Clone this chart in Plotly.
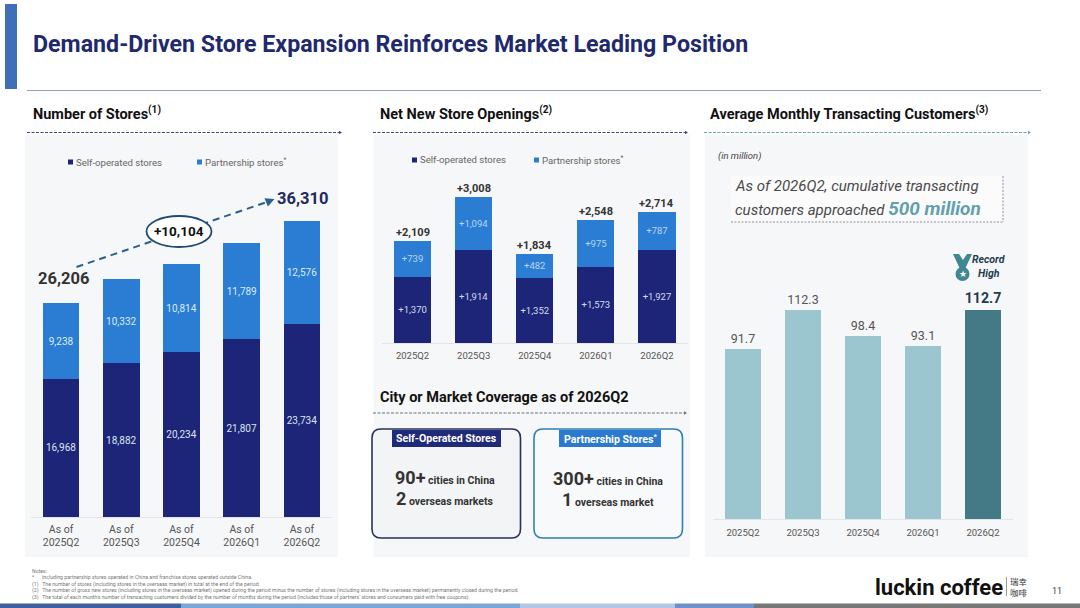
"""
Luckin Coffee results slide: store count, net openings and customers.
"""

import plotly.graph_objects as go

W, H = 1080, 608
FONT = "Roboto"

store_periods = ["As of<br>2025Q2", "As of<br>2025Q3", "As of<br>2025Q4", "As of<br>2026Q1", "As of<br>2026Q2"]
stores_self = [16968, 18882, 20234, 21807, 23734]
stores_partner = [9238, 10332, 10814, 11789, 12576]

quarters = ["2025Q2", "2025Q3", "2025Q4", "2026Q1", "2026Q2"]
openings_self = [1370, 1914, 1352, 1573, 1927]
openings_partner = [739, 1094, 482, 975, 787]
openings_total = [2109, 3008, 1834, 2548, 2714]

customers = [91.7, 112.3, 98.4, 93.1, 112.7]

notes = [
    "Notes:",
    "*      Including partnership stores operated in China and franchise stores operated outside China.",
    "(1)   The number of stores (including stores in the overseas market) in total at the end of the period.",
    "(2)   The number of gross new stores (including stores in the overseas market) opened during the period minus the number of stores (including stores in the overseas market) permanently closed during the period.",
    "(3)   The total of each month's number of transacting customers divided by the number of months during the period (includes those of partners' stores and consumers paid with free coupons).",
]

NAVY = "#1c2577"
BLUE = "#2a7dd2"
TEAL_LIGHT = "#9cc6cf"
TEAL_DARK = "#437a85"
PANEL = "#f6f7f8"
GREY = "#555555"


def px(x):
    return x / W


def py(y):
    return 1 - y / H


fig = go.Figure()

# number of stores
fig.add_trace(go.Bar(
    x=store_periods, y=stores_self, xaxis="x", yaxis="y",
    marker=dict(color=NAVY, line_width=0),
    texttemplate="%{y:,}", textposition="inside", insidetextanchor="middle", textangle=0,
    textfont=dict(color="#dfe4f2", size=10, family=FONT),
))
fig.add_trace(go.Bar(
    x=store_periods, y=stores_partner, xaxis="x", yaxis="y",
    marker=dict(color=BLUE, line_width=0),
    texttemplate="%{y:,}", textposition="inside", insidetextanchor="middle", textangle=0,
    textfont=dict(color="#dcebfa", size=10, family=FONT),
))

# net new openings
fig.add_trace(go.Bar(
    x=quarters, y=openings_self, xaxis="x2", yaxis="y2",
    marker=dict(color=NAVY, line_width=0),
    texttemplate="+%{y:,}", textposition="inside", insidetextanchor="middle", textangle=0,
    textfont=dict(color="#d5dbee", size=9.5, family=FONT),
))
fig.add_trace(go.Bar(
    x=quarters, y=openings_partner, xaxis="x2", yaxis="y2",
    marker=dict(color=BLUE, line_width=0),
    texttemplate="+%{y:,}", textposition="inside", insidetextanchor="middle", textangle=0,
    textfont=dict(color="#b9d6f3", size=9.5, family=FONT),
))

# customers
fig.add_trace(go.Bar(
    x=quarters, y=customers, xaxis="x3", yaxis="y3",
    marker=dict(color=[TEAL_LIGHT] * 4 + [TEAL_DARK], line_width=0),
    texttemplate="%{y:.1f}", textposition="outside", cliponaxis=False,
    textfont=dict(
        color=[GREY] * 4 + ["#1f3d4d"],
        size=[12.5] * 4 + [16.5],
        weight=["normal"] * 4 + ["bold"],
        family=FONT,
    ),
))


def axis_x(left, right, anchor, size, tick_len):
    return dict(
        domain=[px(left), px(right)], anchor=anchor, type="category",
        showline=True, linecolor="#e2e4e7", linewidth=1, showgrid=False, zeroline=False,
        ticks="outside", ticklen=tick_len, tickcolor="rgba(0,0,0,0)",
        tickfont=dict(size=size, color=GREY, family=FONT),
    )


def axis_y(bottom, top, upper, anchor):
    return dict(
        domain=[py(bottom), py(top)], anchor=anchor, range=[0, upper],
        visible=False, showgrid=False, zeroline=False,
    )


shapes = []
annotations = []


def rect(x0, y0, x1, y1, color, layer="below"):
    shapes.append(dict(
        type="rect", xref="paper", yref="paper", layer=layer,
        x0=px(x0), x1=px(x1), y0=py(y0), y1=py(y1),
        fillcolor=color, line_width=0,
    ))


def label(x, y, text, size, color=GREY, anchor="left", bold=False, italic=False, family=FONT):
    annotations.append(dict(
        xref="paper", yref="paper", x=px(x), y=py(y), text=text, showarrow=False,
        xanchor=anchor, yanchor="middle", align=anchor, borderpad=0, borderwidth=0,
        font=dict(
            size=size, color=color, family=family,
            weight="bold" if bold else "normal",
            style="italic" if italic else "normal",
        ),
    ))


def round_box(x0, y0, x1, y1, r, color, fill):
    a0, a1, b0, b1 = px(x0), px(x1), py(y0), py(y1)
    rx, ry = px(r), r / H
    path = (
        f"M {a0 + rx} {b0} L {a1 - rx} {b0} Q {a1} {b0} {a1} {b0 - ry} "
        f"L {a1} {b1 + ry} Q {a1} {b1} {a1 - rx} {b1} L {a0 + rx} {b1} "
        f"Q {a0} {b1} {a0} {b1 + ry} L {a0} {b0 - ry} Q {a0} {b0} {a0 + rx} {b0} Z"
    )
    shapes.append(dict(
        type="path", xref="paper", yref="paper", layer="below", path=path,
        fillcolor=fill, line=dict(color=color, width=1.6),
    ))


def section(x0, x1, y, color):
    shapes.append(dict(
        type="line", xref="paper", yref="paper", layer="above",
        x0=px(x0), x1=px(x1 - 2), y0=py(y), y1=py(y),
        line=dict(color=color, width=1, dash="3px,1.5px"),
    ))
    shapes.append(dict(
        type="path", xref="paper", yref="paper", layer="above",
        path=f"M {px(x1 - 3)} {py(y - 1.8)} L {px(x1)} {py(y)} L {px(x1 - 3)} {py(y + 1.8)} Z",
        fillcolor=color, line_width=0,
    ))


# page furniture
rect(5, 4, 17, 89, "#3f6fb8")
shapes.append(dict(
    type="line", xref="paper", yref="paper", layer="below",
    x0=px(27), x1=px(1041), y0=py(90.5), y1=py(90.5), line=dict(color="#93a0ad", width=1),
))
label(33, 44.5, "Demand-Driven Store Expansion Reinforces Market Leading Position", 23.2, "#1f2a6e", bold=True)

for x0, x1 in [(25, 338), (373.5, 690), (705, 1028)]:
    rect(x0, 135, x1, 557, PANEL)

label(33, 113.5, "Number of Stores<sup>(1)</sup>", 14.5, "#111111", bold=True)
label(380, 113.5, "Net New Store Openings<sup>(2)</sup>", 14.5, "#111111", bold=True)
label(710, 113.5, "Average Monthly Transacting Customers<sup>(3)</sup>", 14.5, "#111111", bold=True)
label(380, 397, "City or Market Coverage as of 2026Q2", 14.5, "#111111", bold=True)
section(27, 342, 132.5, "#3a4a7c")
section(373, 688, 132.5, "#3a4a7c")
section(704, 1031, 132.5, "#6fa3ad")
section(373, 687, 413, "#6b7280")

# legends
for x, y, color, text in [
    (68, 162, NAVY, "Self-operated stores"),
    (197, 162, BLUE, "Partnership stores<sup>*</sup>"),
    (412, 160, NAVY, "Self-operated stores"),
    (534, 160, BLUE, "Partnership stores<sup>*</sup>"),
]:
    rect(x, y - 2.5, x + 5, y + 2.5, color)
    label(x + 8, y, text, 9.6, "#666666")

# growth arrow over the store chart
shapes.append(dict(
    type="line", xref="paper", yref="paper", layer="above",
    x0=px(76.5), y0=py(267), x1=px(270), y1=py(201),
    line=dict(color="#2b5f8f", width=2, dash="7px,5px"),
))
annotations.append(dict(
    xref="paper", yref="paper", axref="pixel", ayref="pixel",
    x=px(274.5), y=py(199), ax=-8.5, ay=3.5, text="",
    showarrow=True, arrowhead=2, arrowsize=1, arrowwidth=1.8, arrowcolor="#2b5f8f",
))
shapes.append(dict(
    type="circle", xref="paper", yref="paper", layer="above",
    x0=px(146.5), x1=px(211.5), y0=py(216), y1=py(247),
    fillcolor="#ffffff", line=dict(color="#1f4a70", width=1.8),
))
label(179, 231.5, "+10,104", 13.5, "#111111", "center", bold=True)
label(63.5, 278, "26,206", 16.5, "#333333", "center", bold=True)
label(302, 198.5, "36,310", 16.5, "#1f2a5e", "center", bold=True)

# totals above the openings bars
for quarter, total in zip(quarters, openings_total):
    annotations.append(dict(
        xref="x2", yref="y2", x=quarter, y=total, text=f"+{total:,}", showarrow=False,
        yanchor="bottom", yshift=1, borderpad=0,
        font=dict(size=11, color="#333333", family=FONT, weight="bold"),
    ))

# coverage cards
round_box(372, 429, 520.5, 538, 9, "#27315f", "#f3f4f6")
round_box(534, 429, 682.5, 538, 9, "#2f7fb0", "#f8f9fa")
rect(392, 430, 501, 447, "#1f2a78", layer="above")
rect(559, 430, 661, 447, "#2b7ad0", layer="above")
label(446.5, 438.5, "Self-Operated Stores", 10.6, "#ffffff", "center", bold=True)
label(610, 438.5, "Partnership Stores<sup>*</sup>", 10.6, "#ffffff", "center", bold=True)
label(445, 477, "<span style='font-size:18px'>90+</span> cities in China", 10.5, "#333333", "center", bold=True)
label(445, 498, "<span style='font-size:18px'>2</span> overseas markets", 10.5, "#333333", "center", bold=True)
label(608, 478, "<span style='font-size:18px'>300+</span> cities in China", 10.5, "#333333", "center", bold=True)
label(608, 499, "<span style='font-size:18px'>1</span> overseas market", 10.5, "#333333", "center", bold=True)

# customers callout
label(718, 156, "(in million)", 9.5, "#444444", italic=True)
rect(731, 176, 1003, 222, "#fbfbfc")
for x0, y0, x1, y1 in [(731, 222, 1003, 222), (1003, 176, 1003, 222)]:
    shapes.append(dict(
        type="line", xref="paper", yref="paper", layer="below",
        x0=px(x0), x1=px(x1), y0=py(y0), y1=py(y1),
        line=dict(color="#8a8f96", width=1, dash="2px,1.5px"),
    ))
label(735, 186, "As of 2026Q2, cumulative transacting", 15, "#4a4a4a", italic=True)
label(735, 208.5, "customers approached <b style='font-size:19px;color:#62a0ab'>500 million</b>", 15, "#4a4a4a", italic=True)

# record high medal
shapes.append(dict(
    type="path", xref="paper", yref="paper", layer="above",
    path=(
        f"M {px(953)} {py(254)} L {px(959)} {py(254)} L {px(963)} {py(260)} L {px(967)} {py(254)} "
        f"L {px(972)} {py(254)} L {px(965)} {py(269)} L {px(960)} {py(269)} Z"
    ),
    fillcolor="#3f8791", line_width=0,
))
shapes.append(dict(
    type="circle", xref="paper", yref="paper", layer="above",
    x0=px(955.5), x1=px(969.5), y0=py(267), y1=py(281),
    fillcolor="#3f8791", line_width=0,
))
label(962.5, 274, "★", 8.5, "#ffffff", "center")
label(989, 260, "Record", 10.5, "#1f3d4d", "center", bold=True, italic=True)
label(989, 274, "High", 10.5, "#1f3d4d", "center", bold=True, italic=True)

# footnotes
for i, line in enumerate(notes):
    label(32, 570.5 + i * 6.8, line, 5.2, "#777777")

# logo and page number
label(875, 587, "luckin coffee", 22, "#111111", bold=True)
shapes.append(dict(
    type="line", xref="paper", yref="paper", layer="below",
    x0=px(1006.5), x1=px(1006.5), y0=py(577), y1=py(596), line=dict(color="#999999", width=1),
))
label(1019, 581, "瑞幸", 8.5, "#333333", "center", family="Noto Sans CJK SC")
label(1019, 592, "咖啡", 8.5, "#333333", "center", family="Noto Sans CJK SC")
label(1056.5, 591, "11", 9, "#444444", "center")

# footer strip
for x0, x1, color in [
    (0, 181, "#3f5f9f"), (181, 520, "#7aa6d8"), (520, 675, "#b3c8e6"),
    (675, 754, "#6f90c8"), (754, 1080, "#777777"),
]:
    rect(x0, 603.5, x1, 608, color)

fig.update_layout(
    width=W, height=H,
    margin=dict(l=0, r=0, t=0, b=0),
    paper_bgcolor="#ffffff", plot_bgcolor="rgba(0,0,0,0)",
    barmode="stack", bargap=0.39, showlegend=False,
    font=dict(family=FONT),
    xaxis=axis_x(31, 332, "y", 10.5, 2),
    yaxis=axis_y(517, 190, 40123, "x"),
    xaxis2=axis_x(382, 687.5, "y2", 9.5, 4),
    yaxis2=axis_y(343, 165, 3675, "x2"),
    xaxis3=axis_x(713, 1013, "y3", 9.5, 5),
    yaxis3=axis_y(519, 240, 150.2, "x3"),
    shapes=shapes,
    annotations=annotations,
)

fig.write_html("out.html", config={"displayModeBar": False}, post_script="document.body.style.margin = '0';")
